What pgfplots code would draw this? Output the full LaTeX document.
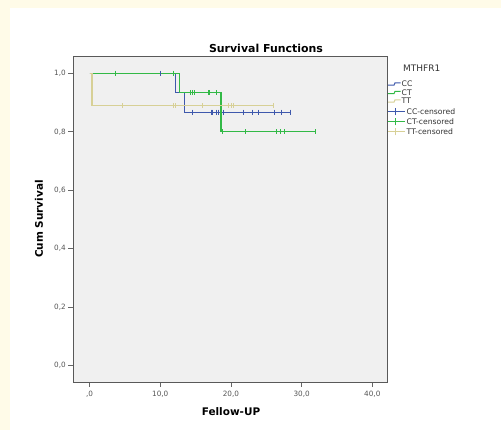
\documentclass[border=0pt]{standalone}
\usepackage{pgfplots}
\pgfplotsset{compat=1.18}
\usepackage{fontspec}
\setmainfont{DejaVu Sans}
\definecolor{cream}{RGB}{255,251,232}
\definecolor{plotbg}{RGB}{240,240,240}
\definecolor{ccblue}{RGB}{62,88,172}
\definecolor{ctgreen}{RGB}{50,185,70}
\definecolor{ttbeige}{RGB}{215,208,150}
\definecolor{ticklab}{RGB}{85,85,85}
\begin{document}
\begin{tikzpicture}
\useasboundingbox (0bp,0bp) rectangle (501bp,430bp);
\fill[cream] (0bp,0bp) rectangle (501bp,430bp);
\fill[white] (10bp,0bp) rectangle (501bp,422bp);
\begin{axis}[
  at={(73.3bp,48bp)}, anchor=south west,
  scale only axis, width=314.4bp, height=325.3bp,
  xmin=-2.3, xmax=42.18, ymin=-0.057, ymax=1.057,
  axis background/.style={fill=plotbg},
  axis line style={draw=black!65, line width=0.6pt},
  xtick={0,10,20,30,40}, xticklabels={{,0},{10,0},{20,0},{30,0},{40,0}},
  ytick={0,0.2,0.4,0.6,0.8,1.0}, yticklabels={{0,0},{0,2},{0,4},{0,6},{0,8},{1,0}},
  tick align=outside, major tick length=5bp,
  tick style={draw=black!60, line width=0.5pt},
  xtick pos=bottom, ytick pos=left,
  xmajorgrids=false, ymajorgrids=false,
  ticklabel style={font=\fontsize{7.3}{8}\selectfont, text=ticklab},
  /pgf/number format/assume math mode=true,
  xticklabel style={yshift=-1bp},
  yticklabel style={xshift=1bp},
  clip=false,
]
\addplot[draw=ccblue, line width=1.2bp, const plot, forget plot] coordinates {(0,1) (12.2,0.9333) (13.4,0.8667) (28.45,0.8667)};
\addplot[draw=ctgreen, line width=1.2bp, const plot, forget plot] coordinates {(0,1) (12.7,0.9333) (18.6,0.8) (31.9,0.8)};
\addplot[draw=ttbeige, line width=1.2bp, const plot, forget plot] coordinates {(0,1) (0.35,0.8889) (26.0,0.8889)};
\addplot[only marks, mark=|, mark size=2.6bp, mark options={draw=ccblue, line width=0.9bp}] coordinates {
(10.1,1) (14.5,0.8667) (17.2,0.8667) (17.45,0.8667) (17.9,0.8667) (18.25,0.8667) (18.9,0.8667) (21.8,0.8667) (23.0,0.8667) (23.9,0.8667) (26.15,0.8667) (27.1,0.8667) (28.45,0.8667)};
\addplot[only marks, mark=|, mark size=2.6bp, mark options={draw=ctgreen, line width=0.9bp}] coordinates {
(3.6,1) (11.9,1) (14.3,0.9333) (14.55,0.9333) (14.8,0.9333) (16.8,0.9333) (17.0,0.9333) (18.0,0.9333) (18.8,0.8) (22.0,0.8) (26.4,0.8) (26.95,0.8) (27.6,0.8) (31.9,0.8)};
\addplot[only marks, mark=|, mark size=2.6bp, mark options={draw=ttbeige, line width=0.9bp}] coordinates {
(4.7,0.8889) (11.9,0.8889) (12.2,0.8889) (16.0,0.8889) (19.6,0.8889) (20.1,0.8889) (20.4,0.8889) (26.0,0.8889)};
\end{axis}
% titles
\node[font=\fontsize{11}{13}\selectfont\bfseries] at (266bp,382bp) {Survival Functions};
\node[font=\fontsize{10.5}{12}\selectfont\bfseries] at (231bp,18bp) {Fellow-UP};
\node[font=\fontsize{10.5}{12}\selectfont\bfseries, rotate=90] at (39bp,211bp) {Cum Survival};
% legend
\node[anchor=west, inner sep=0pt, font=\fontsize{9}{10}\selectfont, text=black!80] at (403bp,362bp) {MTHFR1};
\foreach \c/\t/\yy in {ccblue/CC/346, ctgreen/CT/337.5, ttbeige/TT/329} {
  \draw[\c, line width=1bp] (388bp,\yy bp-1.2bp) -- (394bp,\yy bp-1.2bp) -- (395bp,\yy bp+1.2bp) -- (400.5bp,\yy bp+1.2bp);
  \node[anchor=west, inner sep=0pt, font=\fontsize{7.7}{8}\selectfont, text=black!80] at (401.5bp,\yy bp) {\t};
}
\foreach \c/\t/\yy in {ccblue/CC/318, ctgreen/CT/308, ttbeige/TT/298} {
  \draw[\c, line width=1bp] (388bp,\yy bp) -- (405bp,\yy bp);
  \draw[\c, line width=1bp] (395.5bp,\yy bp-3.5bp) -- (395.5bp,\yy bp+3.5bp);
  \node[anchor=west, inner sep=0pt, font=\fontsize{7.7}{8}\selectfont, text=black!80] at (406.5bp,\yy bp) {\t-censored};
}
\end{tikzpicture}
\end{document}
